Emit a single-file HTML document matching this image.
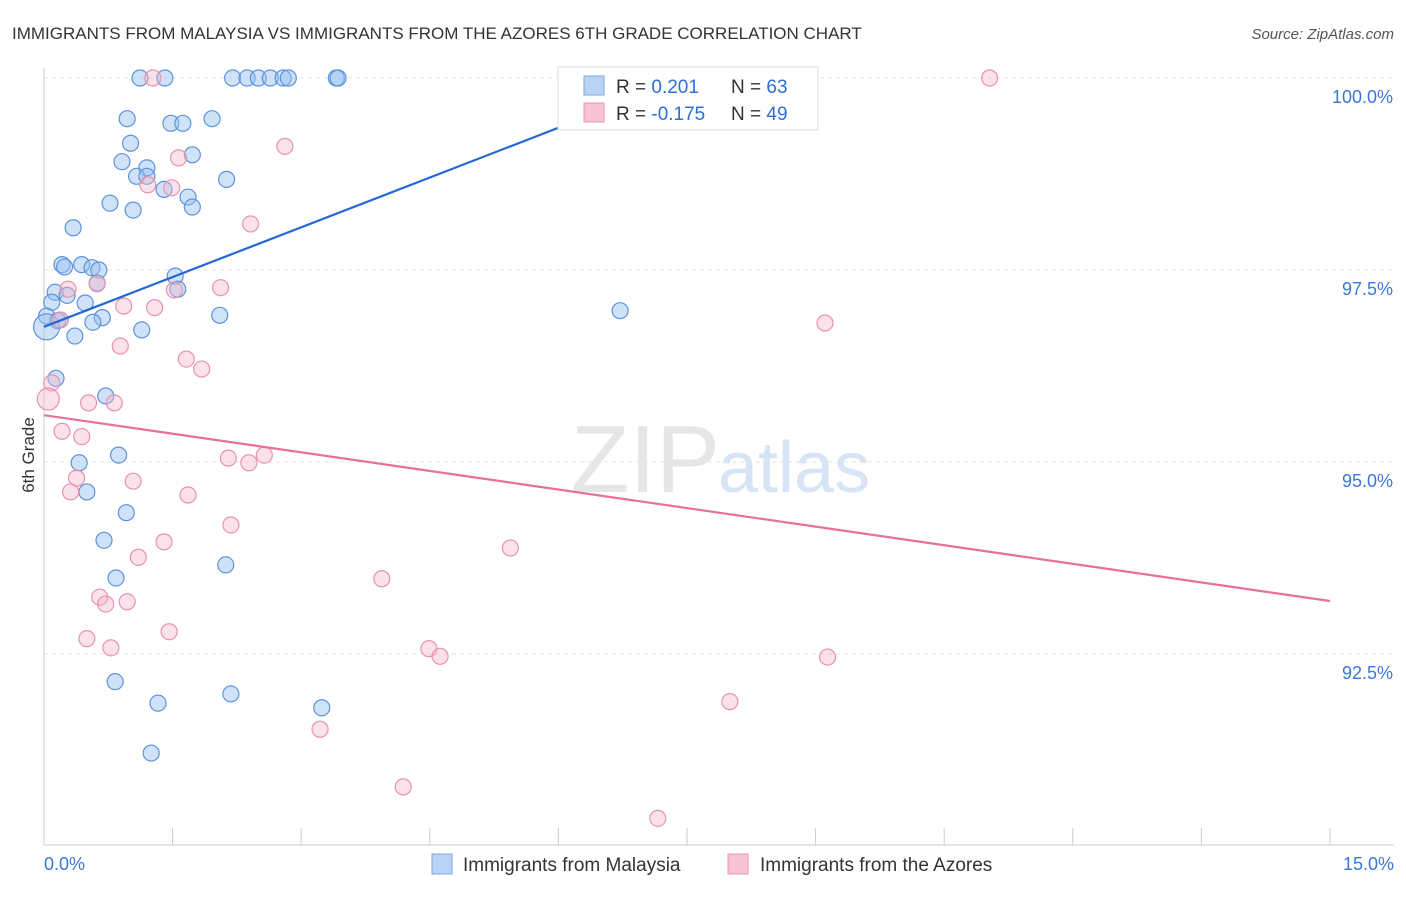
<!DOCTYPE html>
<html><head><meta charset="utf-8"><style>
body{margin:0;background:#fff;font-family:"Liberation Sans",sans-serif;}
svg text{font-family:"Liberation Sans",sans-serif;}
</style></head><body>
<svg id="chart" width="1406" height="892" viewBox="0 0 1406 892">
<text x="12" y="39" font-size="17" fill="#333">IMMIGRANTS FROM MALAYSIA VS IMMIGRANTS FROM THE AZORES 6TH GRADE CORRELATION CHART</text>
<text x="1394" y="39" font-size="15" fill="#555" text-anchor="end" font-style="italic">Source: ZipAtlas.com</text>
<text x="720" y="492" font-size="96" fill="#e6e6e6" text-anchor="end" font-family="Liberation Serif">ZIP</text>
<text x="718" y="492" font-size="72" fill="#d6e4f5">atlas</text>
<text x="34" y="455" font-size="17" fill="#333" transform="rotate(-90 34 455)" text-anchor="middle">6th Grade</text>
<g id="grid"></g><g id="axes"></g><g id="pts"></g><g id="lines"></g>
<g>
<rect x="558" y="67" width="260" height="63" fill="#fff" stroke="#ddd"/>
<rect x="584" y="76" width="20" height="19" fill="#b9d3f5" stroke="#7aa7e0"/>
<rect x="584" y="103" width="20" height="19" fill="#f8c4d4" stroke="#e995b0"/>
<text x="616" y="93" font-size="19" fill="#333">R = <tspan fill="#2d6fd6">0.201</tspan></text>
<text x="731" y="93" font-size="19" fill="#333">N = <tspan fill="#2d6fd6">63</tspan></text>
<text x="616" y="120" font-size="19" fill="#333">R = <tspan fill="#2d6fd6">-0.175</tspan></text>
<text x="731" y="120" font-size="19" fill="#333">N = <tspan fill="#2d6fd6">49</tspan></text>
</g>
<g>
<rect x="432" y="854" width="20" height="20" fill="#b9d3f5" stroke="#7aa7e0"/>
<text x="463" y="871" font-size="19" fill="#333">Immigrants from Malaysia</text>
<rect x="728" y="854" width="20" height="20" fill="#f8c4d4" stroke="#e995b0"/>
<text x="760" y="871" font-size="19" fill="#333">Immigrants from the Azores</text>
</g>
</svg>
<script>
const yTicks=[100,97.5,95,92.5];
const yTickLabels=["100.0%","97.5%","95.0%","92.5%"];
const xTickLabels=["0.0%","15.0%"];
const blueX=[1.12,1.41,2.20,2.37,2.50,2.64,2.79,2.85,3.41,3.43,0.97,1.48,1.62,1.96,1.01,1.73,0.91,1.20,1.08,1.20,2.13,1.40,1.68,1.73,0.77,1.04,0.34,0.21,0.24,0.44,0.56,0.64,1.53,0.62,1.56,0.13,0.27,0.48,0.09,0.68,2.05,6.72,0.03,0.16,0.57,1.14,0.36,0.03,0.14,0.72,0.41,0.50,0.87,0.96,0.70,0.84,2.12,0.83,2.18,1.33,3.24,1.25,0.19];
const blueY=[100,100,100,100,100,100,100,100,100,100,99.47,99.41,99.41,99.47,99.15,99.00,98.91,98.83,98.72,98.72,98.68,98.55,98.45,98.32,98.37,98.28,98.05,97.57,97.54,97.57,97.53,97.50,97.42,97.33,97.25,97.21,97.17,97.07,97.08,96.88,96.91,96.97,96.90,96.84,96.82,96.72,96.64,96.76,96.09,95.86,94.99,94.61,95.09,94.34,93.98,93.49,93.66,92.14,91.98,91.86,91.80,91.21,96.85];
const pinkX=[1.27,11.03,2.81,1.57,1.21,1.49,2.41,0.28,0.62,2.06,1.52,0.93,1.29,9.11,0.19,0.89,1.66,1.84,0.09,0.05,0.52,0.82,0.21,0.44,2.15,2.57,2.39,0.38,1.04,0.31,1.68,2.18,1.40,1.10,5.44,3.94,0.65,0.72,0.97,1.46,0.50,0.78,4.49,4.62,9.14,8.00,3.22,4.19,7.16];
const pinkY=[100,100,99.11,98.96,98.61,98.57,98.10,97.25,97.32,97.27,97.24,97.03,97.01,96.81,96.85,96.51,96.34,96.21,96.03,95.82,95.77,95.77,95.40,95.33,95.05,95.09,94.99,94.79,94.75,94.61,94.57,94.18,93.96,93.76,93.88,93.48,93.24,93.15,93.18,92.79,92.70,92.58,92.57,92.47,92.46,91.88,91.52,90.77,90.36];
const blueTrend=[[0,96.76],[7.5,100.0]];
const pinkTrend=[[0,95.61],[15,93.19]];
const NS="http://www.w3.org/2000/svg";
const xs=v=>44+v*85.73, ys=v=>78+(100-v)*76.8;
function mk(tag,attrs,parent){const e=document.createElementNS(NS,tag);for(const k in attrs)e.setAttribute(k,attrs[k]);parent.appendChild(e);return e;}
const grid=document.getElementById('grid'),axes=document.getElementById('axes'),pts=document.getElementById('pts'),lines=document.getElementById('lines');
yTicks.forEach((t,i)=>{
 const l=mk('line',{x1:44,x2:1394,y1:ys(t),y2:ys(t),stroke:'#e3e3e3','stroke-dasharray':'4,4'},grid);
 
 
 const tx=mk('text',{x:1393,y:ys(t)+25,'font-size':18,fill:'#3a78d8','text-anchor':'end'},axes);
 tx.textContent=yTickLabels[i];
 
 
});
const xa=mk('line',{x1:44,x2:1394,y1:845,y2:845,stroke:'#ccc'},axes);


const ya=mk('line',{x1:44,x2:44,y1:68,y2:845,stroke:'#ccc'},axes);


for(let i=0;i<=10;i++){const t=mk('line',{x1:xs(i*1.5),x2:xs(i*1.5),y1:828,y2:845,stroke:'#ccc'},axes);
 
 }
[[0,44,'start'],[15,1394,'end']].forEach((d,i)=>{const t=mk('text',{x:d[1],y:870,'font-size':18,fill:'#3a78d8','text-anchor':d[2]},axes);t.textContent=xTickLabels[i];
 
 });
blueX.forEach((x,i)=>{const c=mk('circle',{cx:xs(x),cy:ys(blueY[i]),r:(i==47?13:8),fill:'rgba(150,190,240,0.45)',stroke:'#5b93dd','stroke-width':1.2},pts);
 
 });
pinkX.forEach((x,i)=>{const c=mk('circle',{cx:xs(x),cy:ys(pinkY[i]),r:(i==19?11:8),fill:'rgba(245,180,200,0.4)',stroke:'#e893ad','stroke-width':1.2},pts);
 
 });
const bl=mk('line',{x1:xs(blueTrend[0][0]),y1:ys(blueTrend[0][1]),x2:xs(blueTrend[1][0]),y2:ys(blueTrend[1][1]),stroke:'#2468d6','stroke-width':2.2},lines);


const pl=mk('line',{x1:xs(pinkTrend[0][0]),y1:ys(pinkTrend[0][1]),x2:xs(pinkTrend[1][0]),y2:ys(pinkTrend[1][1]),stroke:'#e8709a','stroke-width':2.2},lines);


</script>
</body></html>
